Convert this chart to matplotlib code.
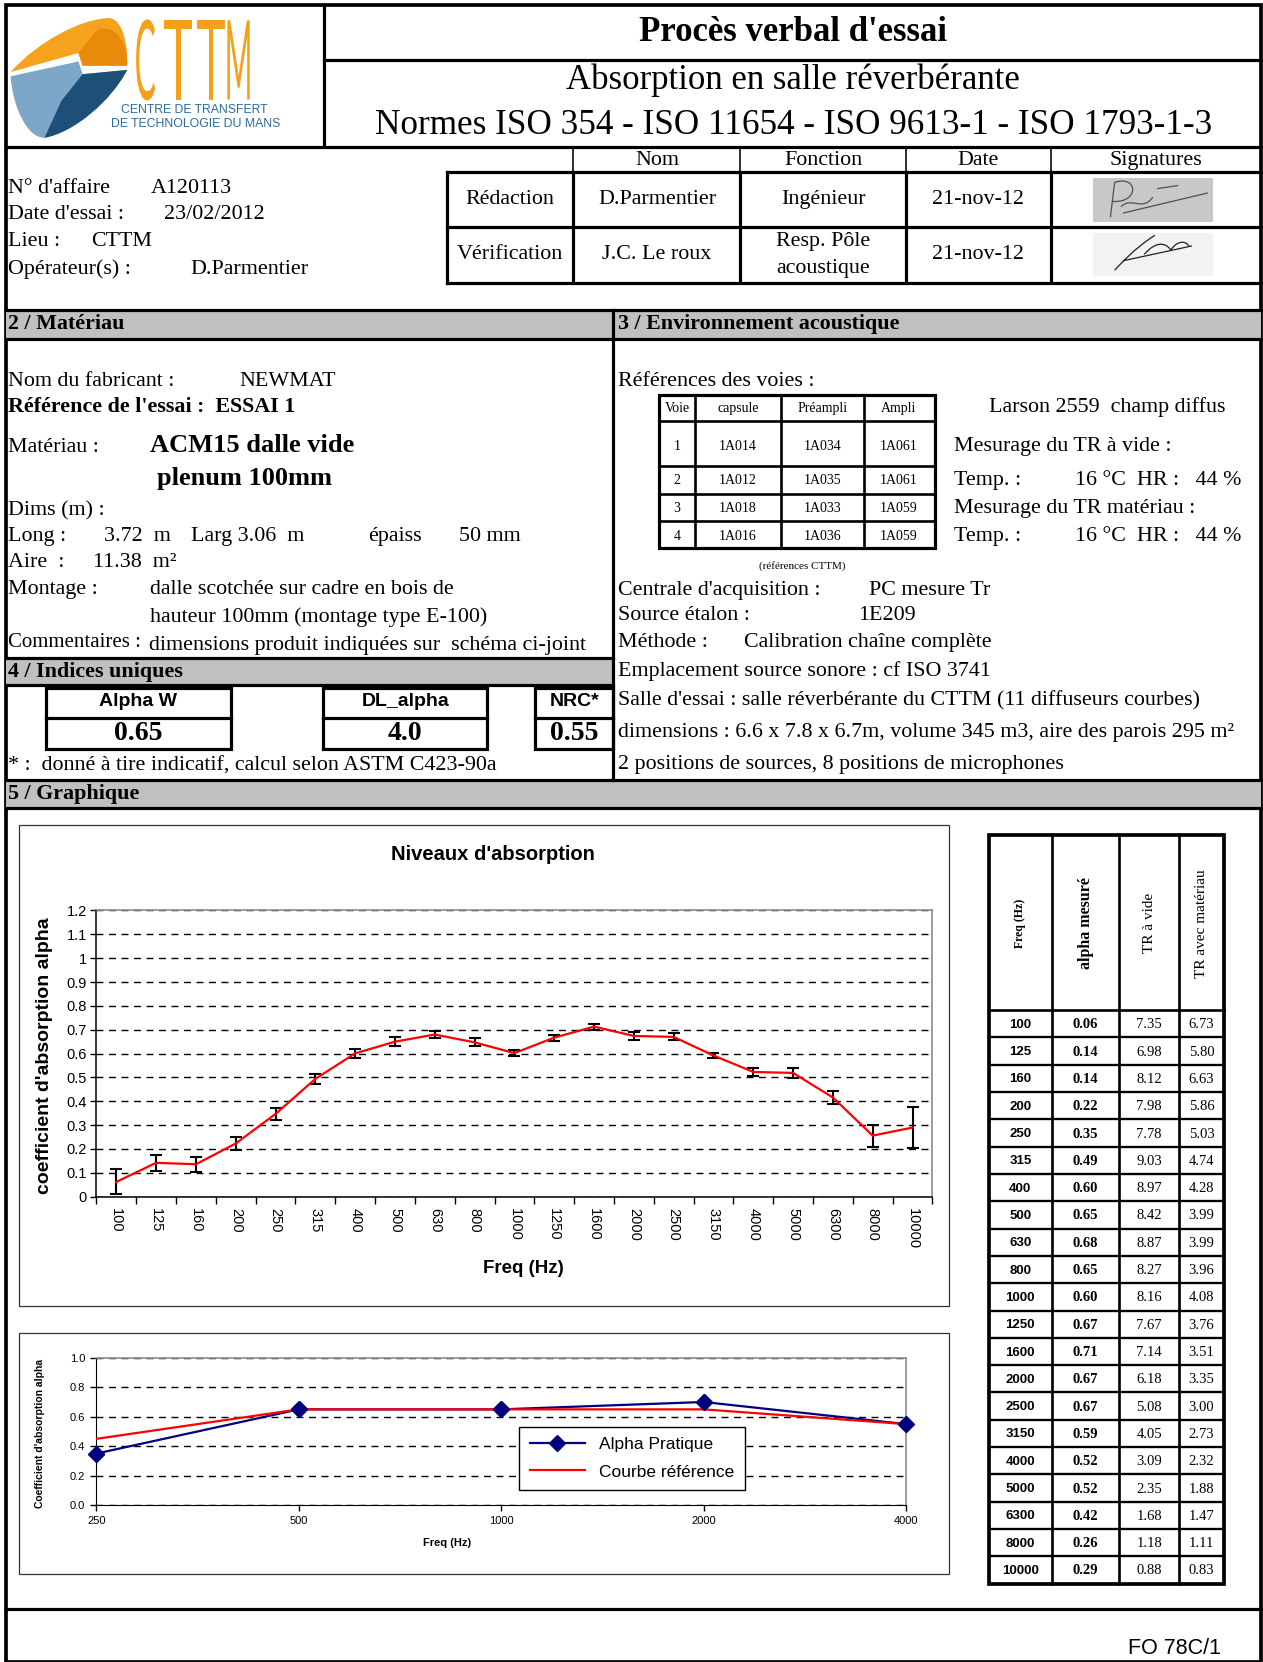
import numpy as np
import matplotlib.pyplot as plt
from matplotlib.patches import Rectangle, PathPatch
from matplotlib.path import Path
from matplotlib.patheffects import AbstractPathEffect
from matplotlib.transforms import Affine2D

# ---- data ----
freqs = ['100', '125', '160', '200', '250', '315', '400', '500', '630', '800', '1000',
         '1250', '1600', '2000', '2500', '3150', '4000', '5000', '6300', '8000', '10000']
alpha = [0.062, 0.142, 0.136, 0.223, 0.347, 0.494, 0.601, 0.650, 0.680, 0.647, 0.602,
         0.667, 0.713, 0.674, 0.670, 0.592, 0.523, 0.519, 0.416, 0.256, 0.290]
alpha_err = [0.052, 0.033, 0.032, 0.026, 0.024, 0.020, 0.020, 0.020, 0.015, 0.017, 0.013,
             0.013, 0.012, 0.015, 0.015, 0.012, 0.017, 0.020, 0.026, 0.046, 0.084]
tr_vide = [7.35, 6.98, 8.12, 7.98, 7.78, 9.03, 8.97, 8.42, 8.87, 8.27, 8.16,
           7.67, 7.14, 6.18, 5.08, 4.05, 3.09, 2.35, 1.68, 1.18, 0.88]
tr_mat = [6.73, 5.80, 6.63, 5.86, 5.03, 4.74, 4.28, 3.99, 3.99, 3.96, 4.08,
          3.76, 3.51, 3.35, 3.00, 2.73, 2.32, 1.88, 1.47, 1.11, 0.83]

oct_freqs = ['250', '500', '1000', '2000', '4000']
alpha_pratique = [0.35, 0.65, 0.65, 0.70, 0.55]
courbe_ref = [0.45, 0.65, 0.65, 0.65, 0.55]

voies = ['1', '2', '3', '4']
capsules = ['1A014', '1A012', '1A018', '1A016']
preamplis = ['1A034', '1A035', '1A033', '1A036']
amplis = ['1A061', '1A061', '1A059', '1A059']

SERIF = 'Liberation Serif'
SANS = 'Liberation Sans'
W, H = 1192, 1568          # layout units (reference as displayed)
P = 1263 / W * 0.72        # layout px -> points


class Stretch(AbstractPathEffect):
    # stretches glyphs downward from the cap line (tall logo letters)
    def __init__(self, sx, sy, cap=71.6):
        super().__init__()
        self.sx, self.sy, self.cap = sx, sy, cap

    def draw_path(self, renderer, gc, tpath, affine, rgbFace=None):
        t = Affine2D().translate(0, -self.cap).scale(self.sx, self.sy).translate(0, self.cap)
        renderer.draw_path(gc, tpath, t + affine, rgbFace)


fig = plt.figure(figsize=(12.63, 16.62), dpi=100)
bg = fig.add_axes([0, 0, 1, 1])
bg.set_xlim(0, W)
bg.set_ylim(H, 0)
bg.axis('off')


def line(x0, y0, x1, y1, lw=3, color='black'):
    bg.plot([x0, x1], [y0, y1], color=color, lw=lw * P, solid_capstyle='projecting')


def box(x0, y0, x1, y1, lw=3):
    bg.add_patch(Rectangle((x0, y0), x1 - x0, y1 - y0, fill=False, ec='black', lw=lw * P))


def txt(x, y, s, size=15.8, ha='left', va='center', bold=False, family=SERIF, **kw):
    return bg.text(x, y, s, fontsize=size, ha=ha, va=va, family=family,
                   fontweight='bold' if bold else 'normal', **kw)


def band(y0, y1, x0=6, x1=1190):
    bg.add_patch(Rectangle((x0, y0), x1 - x0, y1 - y0, fc='#c0c0c0', ec='none'))


def fig_rect(x0, y0, x1, y1):
    return [x0 / W, 1 - y1 / H, (x1 - x0) / W, (y1 - y0) / H]


# ---- logo ----
orange = Path([(10, 68), (35, 40), (75, 18), (103, 17), (115, 18), (121, 40), (120, 62),
               (78, 62), (74, 50), (10, 68)],
              [1, 4, 4, 4, 4, 4, 4, 2, 2, 79])
bg.add_patch(PathPatch(orange, fc='#f6a21e', ec='none'))
bg.add_patch(PathPatch(Path([(92, 28), (112, 22), (121, 45), (120, 62), (78, 62), (74, 50), (92, 28)],
                            [1, 4, 4, 4, 2, 2, 79]), fc='#e88a0a', ec='none'))
blue = Path([(10, 72), (74, 58), (78, 70), (120, 66), (105, 95), (70, 125), (42, 130),
             (25, 130), (12, 100), (10, 72)],
            [1, 2, 2, 2, 4, 4, 4, 4, 4, 4])
bg.add_patch(PathPatch(blue, fc='#7ea6c8', ec='none'))
bg.add_patch(PathPatch(Path([(78, 70), (120, 66), (105, 95), (70, 125), (42, 130), (58, 95), (78, 70)],
                            [1, 2, 4, 4, 4, 2, 79]), fc='#1e4f78', ec='none'))
for letter, lx, sx in [('C', 127, 0.85), ('T', 154, 1.35), ('T', 185, 1.35), ('M', 212, 0.8)]:
    t = bg.text(lx, 44.5, letter, fontsize=27, family='Lato', fontweight='normal',
                color='#f5a01a', ha='left', va='baseline')
    t.set_path_effects([Stretch(sx, 2.95)])
txt(183, 104, 'CENTRE DE TRANSFERT', size=8.8, ha='center', family=SANS, color='#2d6a9a')
txt(185, 117, 'DE TECHNOLOGIE DU MANS', size=8.8, ha='center', family=SANS, color='#2d6a9a')

# ---- frame and header ----
box(6, 5, 1190, 1568, lw=3.5)
line(306, 5, 306, 139)
line(306, 57, 1190, 57)
line(6, 139, 1190, 139)
txt(748, 31, "Procès verbal d'essai", size=25, ha='center', bold=True)
txt(748, 76, 'Absorption en salle réverbérante', size=25, ha='center')
txt(749, 118, 'Normes ISO 354 - ISO 11654 - ISO 9613-1 - ISO 1793-1-3', size=25.3, ha='center')

txt(8, 178, "N° d'affaire")
txt(142, 178, 'A120113')
txt(8, 202, "Date d'essai :")
txt(155, 202, '23/02/2012')
txt(8, 228, 'Lieu :')
txt(86, 228, 'CTTM')
txt(8, 254, 'Opérateur(s) :')
txt(180, 254, 'D.Parmentier')

# signature table
for x in [541, 698, 855, 992]:
    line(x, 139, x, 162, lw=1.5)
    line(x, 162, x, 267)
line(422, 162, 422, 267)
for y in [162, 214, 267]:
    line(422, y, 1190, y)
for s, x in [('Nom', 620), ('Fonction', 777), ('Date', 923), ('Signatures', 1091)]:
    txt(x, 151, s, ha='center')
for s, x in [('Rédaction', 481), ('D.Parmentier', 620), ('Ingénieur', 777), ('21-nov-12', 923)]:
    txt(x, 188, s, ha='center')
for s, x in [('Vérification', 481), ('J.C. Le roux', 620), ('21-nov-12', 923)]:
    txt(x, 240, s, ha='center')
txt(777, 228, 'Resp. Pôle', ha='center')
txt(777, 253, 'acoustique', ha='center')
bg.add_patch(Rectangle((1032, 168), 113, 41, fc='#c8c8c8', ec='none'))
bg.add_patch(Rectangle((1032, 220), 113, 40, fc='#f2f2f2', ec='none'))
sig1 = Path([(1048, 205), (1052, 172), (1075, 165), (1075, 192), (1050, 190),
             (1058, 195), (1068, 185), (1078, 200), (1088, 186),
             (1060, 201), (1140, 182), (1092, 178), (1112, 175)],
            [1, 2, 4, 4, 4, 1, 4, 4, 4, 1, 2, 1, 2])
bg.add_patch(PathPatch(sig1, fill=False, ec='#505050', lw=0.9))
sig2 = Path([(1052, 255), (1070, 235), (1085, 225), (1090, 222),
             (1060, 246), (1125, 232),
             (1080, 240), (1090, 228), (1100, 228), (1105, 236),
             (1110, 228), (1118, 226), (1122, 232)],
            [1, 4, 4, 4, 1, 2, 1, 4, 4, 4, 4, 4, 4])
bg.add_patch(PathPatch(sig2, fill=False, ec='#202020', lw=0.9))

# ---- section bands ----
line(6, 292, 1190, 292)
band(292, 320)
line(6, 320, 1190, 320)
line(579, 292, 579, 736)
txt(8, 306, '2 / Matériau', bold=True)
txt(583, 306, '3 / Environnement acoustique', bold=True)

# section 2
txt(8, 360, 'Nom du fabricant :')
txt(226, 360, 'NEWMAT')
txt(8, 384, "Référence de l'essai :  ESSAI 1", bold=True)
txt(8, 422, 'Matériau :')
txt(142, 420, 'ACM15 dalle vide', size=19, bold=True)
txt(148, 451, 'plenum 100mm', size=19, bold=True)
txt(8, 482, 'Dims (m) :')
txt(8, 506, 'Long :')
txt(98, 506, '3.72  m')
txt(180, 506, 'Larg 3.06  m')
txt(347, 506, 'épaiss')
txt(433, 506, '50 mm')
txt(8, 531, 'Aire  :')
txt(88, 531, '11.38  m²')
txt(8, 556, 'Montage :')
txt(142, 556, 'dalle scotchée sur cadre en bois de')
txt(142, 582, 'hauteur 100mm (montage type E-100)')
txt(8, 606, 'Commentaires :', size=15)
txt(141, 609, 'dimensions produit indiquées sur  schéma ci-joint')

# section 4
line(6, 621, 579, 621)
band(621, 646, 6, 579)
line(6, 646, 579, 646)
txt(8, 634, '4 / Indices uniques', bold=True)
for (name, val, x0, x1) in [('Alpha W', '0.65', 43, 218), ('DL_alpha', '4.0', 305, 460),
                            ('NRC*', '0.55', 505, 579)]:
    box(x0, 649, x1, 707)
    line(x0, 677, x1, 677)
    txt((x0 + x1) / 2, 662, name, size=14, ha='center', bold=True, family=SANS)
    txt((x0 + x1) / 2, 692, val, size=20, ha='center', bold=True)
txt(8, 723, '* :  donné à tire indicatif, calcul selon ASTM C423-90a')

# section 3
txt(583, 360, 'Références des voies :')
cols = [622, 656, 737, 815, 882]
rows = [373, 397, 440, 466, 492, 517]
box(cols[0], rows[0], cols[-1], rows[-1], lw=3)
for x in cols[1:-1]:
    line(x, rows[0], x, rows[-1], lw=2.5)
for y in rows[1:-1]:
    line(cols[0], y, cols[-1], y, lw=2.5)
centers = [(cols[i] + cols[i + 1]) / 2 for i in range(4)]
for s, x in zip(['Voie', 'capsule', 'Préampli', 'Ampli'], centers):
    txt(x, 385, s, size=10, ha='center')
row_y = [421, 453, 480, 506]
for i, y in enumerate(row_y):
    for s, x in zip([voies[i], capsules[i], preamplis[i], amplis[i]], centers):
        txt(x, y, s, size=10, ha='center')
txt(757, 534, '(références CTTM)', size=8, ha='center')
txt(933, 384, 'Larson 2559  champ diffus')
txt(900, 421, 'Mesurage du TR à vide :')
txt(900, 453, 'Temp. :')
txt(1172, 453, '16 °C  HR :   44 %', ha='right')
txt(900, 480, 'Mesurage du TR matériau :')
txt(900, 506, 'Temp. :')
txt(1172, 506, '16 °C  HR :   44 %', ha='right')
txt(583, 557, "Centrale d'acquisition :")
txt(820, 557, 'PC mesure Tr')
txt(583, 581, 'Source étalon :')
txt(810, 581, '1E209')
txt(583, 606, 'Méthode :')
txt(702, 606, 'Calibration chaîne complète')
txt(583, 633, 'Emplacement source sonore : cf ISO 3741')
txt(583, 661, "Salle d'essai : salle réverbérante du CTTM (11 diffuseurs courbes)")
txt(583, 691, 'dimensions : 6.6 x 7.8 x 6.7m, volume 345 m3, aire des parois 295 m²')
txt(583, 721, '2 positions de sources, 8 positions de microphones')

# section 5
line(6, 736, 1190, 736)
band(736, 762)
line(6, 762, 1190, 762)
txt(8, 749, '5 / Graphique', bold=True)
line(6, 1518, 1190, 1518)
txt(1152, 1555, 'FO 78C/1', size=15.5, ha='right', family=SANS)

# ---- chart 1 ----
bg.add_patch(Rectangle((18, 778), 878, 454, fill=False, ec='#333333', lw=0.9))
ax = fig.add_axes(fig_rect(91, 859, 880, 1129))
x = np.arange(len(freqs))
ax.set_axisbelow(True)
ax.grid(axis='y', color='black', lw=1, linestyle=(0, (5, 4)))
ax.errorbar(x, alpha, yerr=alpha_err, fmt='none', ecolor='black', elinewidth=1.5,
            capsize=4, capthick=1.5, zorder=3)
ax.plot(x, alpha, color='#ff0000', lw=1.6, zorder=4)
ax.set_xlim(-0.5, len(freqs) - 0.5)
ax.set_ylim(0, 1.2)
yt = np.round(np.arange(0, 1.21, 0.1), 1)
ax.set_yticks(yt)
ax.set_yticklabels(['%g' % v for v in yt], family=SANS, fontsize=10.5)
ax.set_xticks(x)
ax.set_xticklabels(freqs, family=SANS, fontsize=10.5, rotation=-90)
ax.set_xticks(np.arange(-0.5, len(freqs)), minor=True)
ax.tick_params(axis='x', which='major', length=0, pad=8)
ax.tick_params(axis='x', which='minor', length=5, width=1, direction='out')
ax.tick_params(axis='y', length=4, width=1, direction='out', pad=3)
for side in ['top', 'right']:
    ax.spines[side].set_color('#8c8c8c')
    ax.spines[side].set_linewidth(1.2)
for side in ['left', 'bottom']:
    ax.spines[side].set_linewidth(1.1)
txt(465, 806, "Niveaux d'absorption", size=14.5, ha='center', bold=True, family=SANS)
txt(494, 1197, 'Freq (Hz)', size=13.5, ha='center', bold=True, family=SANS)
txt(42, 996, "coefficient d'absorption alpha", size=14, ha='center', bold=True,
    family=SANS, rotation=90)

# ---- chart 2 ----
bg.add_patch(Rectangle((18, 1258), 878, 227, fill=False, ec='#333333', lw=0.9))
ax2 = fig.add_axes(fig_rect(91, 1281, 855, 1420))
xo = np.arange(len(oct_freqs))
ax2.set_axisbelow(True)
ax2.grid(axis='y', color='black', lw=1, linestyle=(0, (5, 4)))
ax2.plot(xo, alpha_pratique, color='#000080', lw=1.6, marker='D', markersize=8,
         label='Alpha Pratique', zorder=3)
ax2.plot(xo, courbe_ref, color='#ff0000', lw=1.6, label='Courbe référence', zorder=4)
ax2.plot(xo, alpha_pratique, linestyle='none', marker='D', markersize=8, color='#000080',
         zorder=5, clip_on=False)
ax2.set_xlim(0, len(oct_freqs) - 1)
ax2.set_ylim(0, 1.0)
yt2 = np.round(np.arange(0, 1.01, 0.2), 1)
ax2.set_yticks(yt2)
ax2.set_yticklabels(['%.1f' % v for v in yt2], family=SANS, fontsize=8)
ax2.set_xticks(xo)
ax2.set_xticklabels(oct_freqs, family=SANS, fontsize=8)
ax2.tick_params(length=4, width=1, direction='out', pad=4)
for side in ['top', 'right']:
    ax2.spines[side].set_color('#8c8c8c')
    ax2.spines[side].set_linewidth(1.2)
leg = ax2.legend(loc='upper left', bbox_to_anchor=(490 / W, 1 - 1346 / H),
                 bbox_transform=fig.transFigure, borderaxespad=0, frameon=True,
                 fancybox=False, edgecolor='black', framealpha=1, borderpad=0.6,
                 handlelength=3.2, labelspacing=0.7, prop={'family': SANS, 'size': 12.5})
leg.get_frame().set_linewidth(1)
txt(422, 1456, 'Freq (Hz)', size=8, ha='center', bold=True, family=SANS)
txt(38, 1352, "Coefficient d'absorption alpha", size=7.5, ha='center', bold=True,
    family=SANS, rotation=90)

# ---- right table ----
tcols = [933, 993, 1056, 1113, 1155]
top, head_bot, bot = 788, 953, 1494
step = (bot - head_bot) / len(freqs)
box(tcols[0], top, tcols[-1], bot, lw=3.5)
for xc in tcols[1:-1]:
    line(xc, top, xc, bot, lw=2.5)
line(tcols[0], head_bot, tcols[-1], head_bot, lw=2.5)
tc = [(tcols[i] + tcols[i + 1]) / 2 for i in range(4)]
txt(tc[0], 871, 'Freq (Hz)', size=8.5, ha='center', bold=True, rotation=90)
txt(tc[1], 871, 'alpha mesuré', size=11.5, ha='center', bold=True, rotation=90)
txt(tc[2], 871, 'TR à vide', size=11, ha='center', rotation=90)
txt(tc[3], 871, 'TR avec matériau', size=11, ha='center', rotation=90)
for i, f in enumerate(freqs):
    y0 = head_bot + i * step
    if i > 0:
        line(tcols[0], y0, tcols[-1], y0, lw=2.2)
    yc = y0 + step / 2 + 1
    txt(tc[0], yc, f, size=9.5, ha='center', bold=True, family=SANS)
    txt(tc[1], yc, '%.2f' % alpha[i], size=10.5, ha='center', bold=True)
    txt(tc[2], yc, '%.2f' % tr_vide[i], size=10.5, ha='center')
    txt(tc[3], yc, '%.2f' % tr_mat[i], size=10.5, ha='center')

fig.savefig('out.png', dpi=100)
